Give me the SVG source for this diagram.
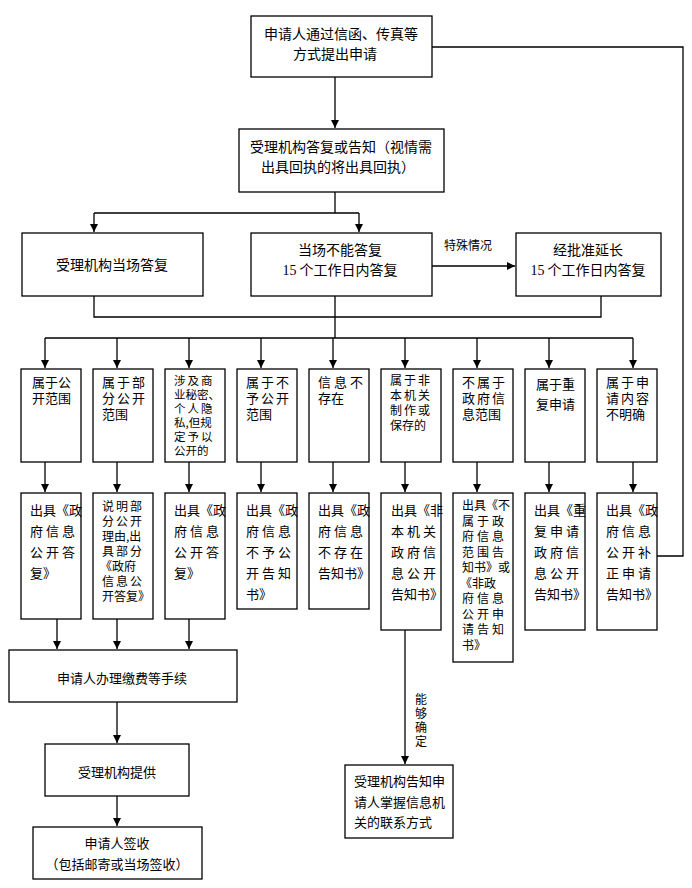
<svg xmlns="http://www.w3.org/2000/svg" width="692" height="888" viewBox="0 0 692 888">
<defs>
<marker id="ah" markerWidth="10" markerHeight="10" refX="9" refY="5" orient="auto" markerUnits="userSpaceOnUse"><path d="M1,1 L9,5 L1,9 Z" fill="#000"/></marker>
<style>
.b{fill:#fff;stroke:#000;stroke-width:1.3}
.c{fill:none;stroke:#000;stroke-width:1.3}
.a{marker-end:url(#ah)}
text{font-family:"Noto Sans CJK SC","Noto Sans CJK JP",sans-serif;font-size:13px;fill:#000}
.m{text-anchor:middle}
.l{font-size:14px}
.s{font-size:12px}
.t{font-size:11.5px}
.w3{letter-spacing:3px}
.w2{letter-spacing:2px}
.n{font-family:"Liberation Serif","Noto Sans CJK SC",serif}
</style>
</defs>
<rect width="692" height="888" fill="#fff"/>
<g id="connectors">
<path class="c a" d="M335,77 V128"/>
<path class="c" d="M335,192 V213 M94,213 H359"/>
<path class="c a" d="M94,213 V232"/>
<path class="c a" d="M359,213 V232"/>
<path class="c a" d="M432,266 H515"/>
<path class="c" d="M94,296 V317 H601 V296 M335,296 V338 M45,338 H633"/>
<path class="c a" d="M45,338 V368"/><path class="c a" d="M117,338 V368"/><path class="c a" d="M189,338 V368"/>
<path class="c a" d="M261,338 V368"/><path class="c a" d="M333,338 V368"/><path class="c a" d="M405,338 V368"/>
<path class="c a" d="M477,338 V368"/><path class="c a" d="M549,338 V368"/><path class="c a" d="M633,338 V368"/>
<path class="c a" d="M45,462 V492"/><path class="c a" d="M117,462 V492"/><path class="c a" d="M189,462 V492"/>
<path class="c a" d="M261,462 V492"/><path class="c a" d="M333,462 V492"/><path class="c a" d="M405,462 V492"/>
<path class="c a" d="M477,462 V492"/><path class="c a" d="M549,462 V492"/><path class="c a" d="M633,462 V492"/>
<path class="c a" d="M57,619 V649"/><path class="c a" d="M117,619 V649"/><path class="c a" d="M189,619 V649"/>
<path class="c a" d="M117,702 V743"/>
<path class="c a" d="M117,796 V826"/>
<path class="c a" d="M405,630 V764"/>
<path class="c" d="M432,47 H683 V556 H657"/>
<text class="s" x="444" y="250">特殊情况</text>
<text class="s" x="415" y="704">能<tspan x="415" dy="14">够</tspan><tspan x="415" dy="14">确</tspan><tspan x="415" dy="14">定</tspan></text>
</g>
<g id="n1"><rect class="b" x="251" y="16" width="181" height="61"/><text class="l m" x="341" y="39">申请人通过信函、传真等<tspan x="335" dy="20">方式提出申请</tspan></text></g>
<g id="n2"><rect class="b" x="239" y="129" width="205" height="63"/><text class="l m" x="341" y="152">受理机构答复或告知（视情需<tspan x="338" dy="20">出具回执的将出具回执）</tspan></text></g>
<g id="n3"><rect class="b" x="22" y="233" width="181" height="63"/><text class="l m" x="112" y="270">受理机构当场答复</text></g>
<g id="n4"><rect class="b" x="251" y="233" width="181" height="63"/><text class="l m" x="340" y="255">当场不能答复<tspan x="340" dy="20"><tspan class="n">15</tspan> 个工作日内答复</tspan></text></g>
<g id="n5"><rect class="b" x="516" y="233" width="145" height="63"/><text class="l m" x="588" y="255">经批准延长<tspan x="588" dy="20"><tspan class="n">15</tspan> 个工作日内答复</tspan></text></g>
<g id="c1"><rect class="b" x="21" y="369" width="60" height="93"/><text x="32" y="387">属于公<tspan x="32" dy="16">开范围</tspan></text></g>
<g id="c2"><rect class="b" x="93" y="369" width="60" height="93"/><text x="102" y="387"><tspan class="w2">属于部</tspan><tspan class="w2" x="102" dy="16">分公开</tspan><tspan x="102" dy="16">范围</tspan></text></g>
<g id="c3"><rect class="b" x="165" y="369" width="60" height="93"/><text class="t" x="174" y="385"><tspan class="w2">涉及商</tspan><tspan x="174" dy="14">业秘密、</tspan><tspan class="w2" x="174" dy="14">个人隐</tspan><tspan x="174" dy="14">私,但规</tspan><tspan class="w2" x="174" dy="14">定予以</tspan><tspan x="174" dy="14">公开的</tspan></text></g>
<g id="c4"><rect class="b" x="237" y="369" width="60" height="93"/><text x="246" y="387"><tspan class="w2">属于不</tspan><tspan class="w2" x="246" dy="16">予公开</tspan><tspan x="246" dy="16">范围</tspan></text></g>
<g id="c5"><rect class="b" x="309" y="369" width="60" height="93"/><text x="318" y="387"><tspan class="w3">信息不</tspan><tspan x="318" dy="16">存在</tspan></text></g>
<g id="c6"><rect class="b" x="381" y="369" width="60" height="93"/><text class="s" x="390" y="385"><tspan class="w2">属于非</tspan><tspan class="w2" x="390" dy="15">本机关</tspan><tspan class="w2" x="390" dy="15">制作或</tspan><tspan x="390" dy="15">保存的</tspan></text></g>
<g id="c7"><rect class="b" x="453" y="369" width="60" height="93"/><text x="462" y="387"><tspan class="w2">不属于</tspan><tspan class="w2" x="462" dy="16">政府信</tspan><tspan x="462" dy="16">息范围</tspan></text></g>
<g id="c8"><rect class="b" x="525" y="369" width="60" height="93"/><text x="536" y="389">属于重<tspan x="536" dy="20">复申请</tspan></text></g>
<g id="c9"><rect class="b" x="597" y="369" width="60" height="93"/><text x="606" y="387"><tspan class="w2">属于申</tspan><tspan class="w2" x="606" dy="16">请内容</tspan><tspan x="606" dy="16">不明确</tspan></text></g>
<g id="d1"><rect class="b" x="21" y="493" width="60" height="126"/><text x="30" y="515">出具《政<tspan class="w3" x="30" dy="21">府信息</tspan><tspan class="w3" x="30" dy="21">公开答</tspan><tspan x="30" dy="21">复》</tspan></text></g>
<g id="d2"><rect class="b" x="93" y="493" width="60" height="126"/><text class="s" x="102" y="511"><tspan class="w2">说明部</tspan><tspan class="w2" x="102" dy="15">分公开</tspan><tspan x="102" dy="15">理由,出</tspan><tspan class="w2" x="102" dy="15">具部分</tspan><tspan x="100" dy="15">《政府</tspan><tspan class="w2" x="102" dy="15">信息公</tspan><tspan x="102" dy="15">开答复》</tspan></text></g>
<g id="d3"><rect class="b" x="165" y="493" width="60" height="126"/><text x="174" y="515">出具《政<tspan class="w3" x="174" dy="21">府信息</tspan><tspan class="w3" x="174" dy="21">公开答</tspan><tspan x="174" dy="21">复》</tspan></text></g>
<g id="d4"><rect class="b" x="237" y="493" width="60" height="116"/><text x="246" y="515">出具《政<tspan class="w3" x="246" dy="21">府信息</tspan><tspan class="w3" x="246" dy="21">不予公</tspan><tspan class="w3" x="246" dy="21">开告知</tspan><tspan x="246" dy="21">书》</tspan></text></g>
<g id="d5"><rect class="b" x="309" y="493" width="60" height="116"/><text x="318" y="515">出具《政<tspan class="w3" x="318" dy="21">府信息</tspan><tspan class="w3" x="318" dy="21">不存在</tspan><tspan x="318" dy="21">告知书》</tspan></text></g>
<g id="d6"><rect class="b" x="381" y="493" width="60" height="137"/><text x="391" y="515">出具《非<tspan class="w3" x="391" dy="21">本机关</tspan><tspan class="w3" x="391" dy="21">政府信</tspan><tspan class="w3" x="391" dy="21">息公开</tspan><tspan x="391" dy="21">告知书》</tspan></text></g>
<g id="d7"><rect class="b" x="453" y="493" width="60" height="169"/><text class="s" x="462" y="510">出具《不<tspan class="w3" x="462" dy="15.5">属于政</tspan><tspan class="w3" x="462" dy="15.5">府信息</tspan><tspan class="w3" x="462" dy="15.5">范围告</tspan><tspan x="462" dy="15.5">知书》或</tspan><tspan x="460" dy="15.5">《非政</tspan><tspan class="w3" x="462" dy="15.5">府信息</tspan><tspan class="w3" x="462" dy="15.5">公开申</tspan><tspan class="w3" x="462" dy="15.5">请告知</tspan><tspan x="462" dy="15.5">书》</tspan></text></g>
<g id="d8"><rect class="b" x="525" y="493" width="60" height="137"/><text x="534" y="515">出具《重<tspan class="w3" x="534" dy="21">复申请</tspan><tspan class="w3" x="534" dy="21">政府信</tspan><tspan class="w3" x="534" dy="21">息公开</tspan><tspan x="534" dy="21">告知书》</tspan></text></g>
<g id="d9"><rect class="b" x="597" y="493" width="60" height="137"/><text x="606" y="515">出具《政<tspan class="w3" x="606" dy="21">府信息</tspan><tspan class="w3" x="606" dy="21">公开补</tspan><tspan class="w3" x="606" dy="21">正申请</tspan><tspan x="606" dy="21">告知书》</tspan></text></g>
<g id="e1"><rect class="b" x="9" y="650" width="228" height="52"/><text class="m" x="122" y="683">申请人办理缴费等手续</text></g>
<g id="e2"><rect class="b" x="45" y="744" width="144" height="52"/><text class="m" x="117" y="777">受理机构提供</text></g>
<g id="e3"><rect class="b" x="33" y="827" width="169" height="52"/><text class="m" x="117" y="848">申请人签收<tspan x="117" dy="21">（包括邮寄或当场签收）</tspan></text></g>
<g id="e4"><rect class="b" x="345" y="765" width="108" height="73"/><text x="354" y="786">受理机构告知申<tspan x="354" dy="21">请人掌握信息机</tspan><tspan x="354" dy="20">关的联系方式</tspan></text></g>
</svg>
